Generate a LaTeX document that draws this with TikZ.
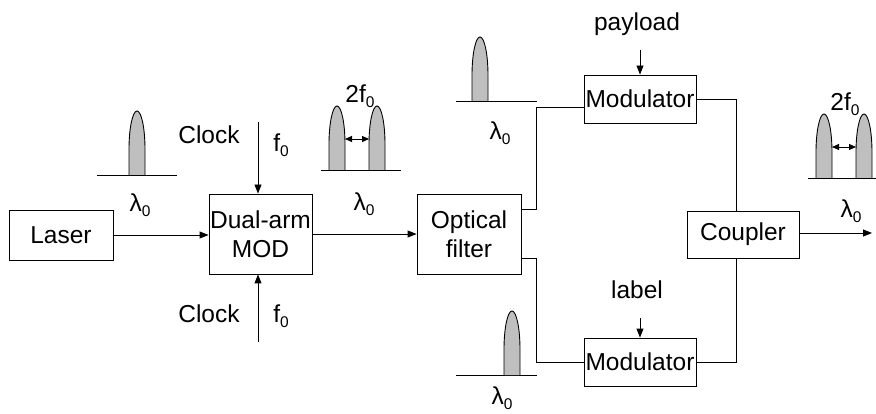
\documentclass[tikz,border=0pt]{standalone}
\usepackage{fontspec}
\setmainfont{Liberation Sans}
\usetikzlibrary{arrows.meta,calc}
\newcommand{\mysub}[1]{\raisebox{-0.35ex}{\fontsize{15.5}{15.5}\selectfont #1}}
\newcommand{\lamz}{λ\mysub{0}}
\newcommand{\drawpulse}[3]{%
  \pgfmathsetmacro{\pr}{0.6*(#2-#3)}%
  \pgfmathsetmacro{\pm}{#3+\pr}%
  \filldraw[pulsestyle] (#1-8,#2) -- (#1-8,\pm) arc[start angle=180,end angle=360,x radius=8,y radius=\pr] -- (#1+8,#2);}
\begin{document}
\begin{tikzpicture}[x=1pt,y=-1pt,
  every node/.style={font=\fontsize{24.5}{28}\selectfont},
  blk/.style={draw,line width=0.9pt,inner sep=0pt,align=center},
  wire/.style={line width=0.9pt},
  arr/.style={line width=0.9pt,-{Triangle[length=9pt,width=7pt]}},
  darr/.style={line width=0.9pt,{Triangle[length=7pt,width=6pt]}-{Triangle[length=7pt,width=6pt]}},
  pulsestyle/.style={fill=black!25,draw=black,line width=0.9pt},
  base/.style={line width=0.9pt}]
\useasboundingbox (0,0) rectangle (876,414);
% blocks
\node[blk,minimum width=104pt,minimum height=50pt] (laser) at (61,235) {Laser};
\node[blk,minimum width=103pt,minimum height=80pt,font=\fontsize{24.5}{29}\selectfont] (mod) at (260.5,234) {Dual-arm\\MOD};
\node[blk,minimum width=104pt,minimum height=80pt,font=\fontsize{24.5}{29}\selectfont] (filt) at (469,234) {Optical\\filter};
\node[blk,minimum width=112pt,minimum height=48pt] (modA) at (640,99) {Modulator};
\node[blk,minimum width=112pt,minimum height=48pt] (modB) at (640,362) {Modulator};
\node[blk,minimum width=112pt,minimum height=47pt] (coup) at (743,234.5) {Coupler};
% main connectors
\draw[arr] (laser.east) -- (mod.west |- laser.east);
\draw[arr] (mod.east) -- (filt.west);
\draw[wire] ($(filt.north east)+(0,16)$) -| (536,107) -- (modA.west |- 0,107);
\draw[wire] ($(filt.south east)+(0,-15.5)$) -| (536,362) -- (modB.west);
\draw[wire] (modA.east) -| (736,0 |- coup.north);
\draw[wire] (modB.east) -| (736,0 |- coup.south);
\coordinate (out) at (872,233);
\draw[arr] (coup.east |- out) -- (out);
% clock inputs
\coordinate (clkT) at (258,122);
\coordinate (clkB) at (258,342);
\draw[arr] (clkT) -- (clkT |- mod.north);
\draw[arr] (clkB) -- (clkB |- mod.south);
\node (clockT) at (209,135) {Clock};
\node (fT) at (281,145) {f\mysub{0}};
\node (clockB) at (209,314) {Clock};
\node (fB) at (281,316) {f\mysub{0}};
% payload / label
\coordinate (pl) at (640,50);
\coordinate (lb) at (640,318);
\draw[arr] (pl) -- (modA.north);
\draw[arr] (lb) -- (modB.north);
\node (payload) at (637,24) {payload};
\node (label) at (637,290) {label};
% pulses
\draw[base] (97,175) -- (177,175);
\drawpulse{137}{175}{111}
\node (l1) at (140,205) {\lamz};
\draw[base] (321,170) -- (401,170);
\drawpulse{337}{170}{106}
\drawpulse{377}{170}{106}
\draw[darr] (345,139) -- (369,139);
\node (f2a) at (360,96) {2f\mysub{0}};
\node (l2) at (364,204) {\lamz};
\draw[base] (456,101) -- (537,101);
\drawpulse{480}{101}{37}
\node (l3) at (500,133) {\lamz};
\draw[base] (456,375) -- (537,375);
\drawpulse{512}{375}{311}
\node (l4) at (502,398) {\lamz};
\draw[base] (808,178) -- (876,178);
\drawpulse{824}{178}{114}
\drawpulse{864}{178}{114}
\draw[darr] (832,147) -- (856,147);
\node (f2b) at (845,104) {2f\mysub{0}};
\node (l5) at (851,211) {\lamz};
\end{tikzpicture}
\end{document}
